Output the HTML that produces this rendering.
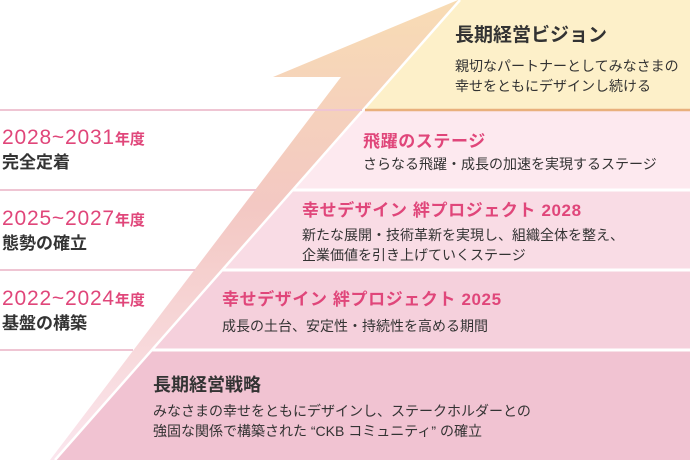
<!DOCTYPE html>
<html><head><meta charset="utf-8"><style>
body{margin:0;width:690px;height:460px;overflow:hidden;background:#fff;position:relative;font-family:"Liberation Sans","Noto Sans CJK JP",sans-serif;color:#333}
svg{position:absolute;left:0;top:0}
.t{position:absolute;white-space:nowrap;line-height:1}
.p{color:#e0467a}
.y{font-size:21px;color:#e0467a;letter-spacing:0.8px}
.y small{font-size:15px;font-weight:bold;letter-spacing:0}
.h{font-size:17px;font-weight:bold;color:#333}
.s{font-size:14px;color:#333;line-height:20px}
.pt{font-size:17px;font-weight:bold;letter-spacing:0.6px}
</style></head><body>
<svg width="690" height="460">
<defs>
<linearGradient id="ar" x1="0" y1="0" x2="0" y2="1">
<stop offset="0" stop-color="#f8dcb4"/><stop offset="0.45" stop-color="#f3c8c3"/><stop offset="1" stop-color="#fbe6ee"/>
</linearGradient>
</defs>
<polygon points="460,0 690,0 690,110 363,110" fill="#fdf0c9"/>
<polygon points="363,110 690,110 690,190 293,190" fill="#fde9ef"/>
<polygon points="293,190 690,190 690,270 222,270" fill="#f9dce5"/>
<polygon points="222,270 690,270 690,350 152,350" fill="#f5d0dc"/>
<polygon points="152,350 690,350 690,460 55,460" fill="#f1c3d2"/>
<polygon points="273,77 458,0 460,0 55,460 50,460 341,77" fill="url(#ar)"/>
<line x1="460" y1="0" x2="55" y2="460" stroke="#fff" stroke-width="2.5"/>
<line x1="293" y1="190" x2="690" y2="190" stroke="#fff" stroke-width="3"/>
<line x1="222" y1="270" x2="690" y2="270" stroke="#fff" stroke-width="3"/>
<line x1="152" y1="350" x2="690" y2="350" stroke="#fff" stroke-width="3"/>
<line x1="365" y1="110" x2="690" y2="110" stroke="#e9b07c" stroke-width="2.5"/>
<line x1="0" y1="110" x2="362" y2="110" stroke="#efc5d3" stroke-width="2"/>
<line x1="0" y1="190" x2="256" y2="190" stroke="#efc5d3" stroke-width="2"/>
<line x1="0" y1="270" x2="195" y2="270" stroke="#efc5d3" stroke-width="2"/>
<line x1="0" y1="350" x2="133" y2="350" stroke="#efc5d3" stroke-width="2"/>
</svg>

<div class="t y" style="left:2px;top:127px">2028~2031<small>年度</small></div>
<div class="t h" style="left:2px;top:154px">完全定着</div>
<div class="t y" style="left:2px;top:208px">2025~2027<small>年度</small></div>
<div class="t h" style="left:2px;top:235px">態勢の確立</div>
<div class="t y" style="left:2px;top:288px">2022~2024<small>年度</small></div>
<div class="t h" style="left:2px;top:315px">基盤の構築</div>

<div class="t" style="left:455px;top:26px;font-size:19px;font-weight:bold">長期経営ビジョン</div>
<div class="t s" style="left:455px;top:56px">親切なパートナーとしてみなさまの<br>幸せをともにデザインし続ける</div>

<div class="t p pt" style="left:363px;top:133px">飛躍のステージ</div>
<div class="t s" style="left:363px;top:154px">さらなる飛躍・成長の加速を実現するステージ</div>

<div class="t p pt" style="left:302px;top:202px">幸せデザイン 絆プロジェクト 2028</div>
<div class="t s" style="left:302px;top:225px">新たな展開・技術革新を実現し、組織全体を整え、<br>企業価値を引き上げていくステージ</div>

<div class="t p pt" style="left:222px;top:291px">幸せデザイン 絆プロジェクト 2025</div>
<div class="t s" style="left:222px;top:316px">成長の土台、安定性・持続性を高める期間</div>

<div class="t" style="left:153px;top:376px;font-size:18px;font-weight:bold">長期経営戦略</div>
<div class="t s" style="left:153px;top:401px">みなさまの幸せをともにデザインし、ステークホルダーとの<br>強固な関係で構築された “CKB コミュニティ” の確立</div>
</body></html>
